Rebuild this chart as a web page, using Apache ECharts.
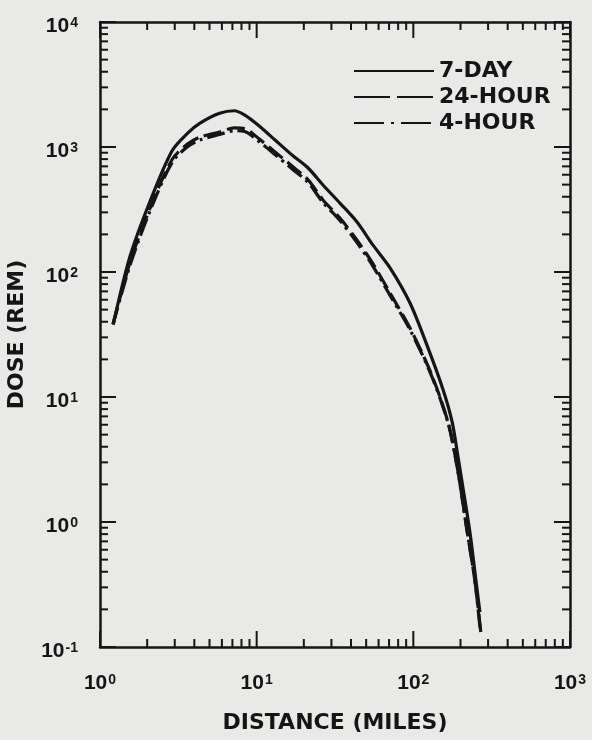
<!DOCTYPE html>
<html>
<head>
<meta charset="utf-8">
<script src="https://cdn.jsdelivr.net/npm/echarts@6/dist/echarts.min.js"></script>
<style>
  html, body { margin: 0; padding: 0; background: #e9e9e7; }
  #main { width: 592px; height: 740px; }
</style>
</head>
<body>
<div id="main"></div>
<script>
// dose vs distance
var sevenDayDist = [1.22, 1.55, 2.09, 2.88, 3.6, 4.35, 5.8, 7.2, 8.4, 10.2, 13.1, 16.8, 21.3, 26.5, 34.0, 43.7, 55.3, 71.0, 95.2, 122, 155, 177, 192, 206, 230, 251, 266];
var sevenDayDose = [39, 132, 370, 930, 1280, 1550, 1860, 1950, 1800, 1500, 1138, 863, 679, 497, 356, 251, 164, 108, 56.5, 26.1, 11.4, 6.3, 3.44, 1.98, 0.82, 0.34, 0.19];

var dayDist = [1.21, 1.55, 2.09, 2.88, 3.6, 4.35, 5.8, 7.2, 8.4, 10.2, 13.1, 16.8, 21.3, 26.5, 34.0, 43.7, 55.3, 71.0, 95.2, 124, 148, 169, 184.5, 198.6, 220, 247, 270];
var dayDose = [38, 118, 325, 790, 1050, 1200, 1320, 1420, 1400, 1180, 912, 705, 545, 377, 270, 180, 116, 67.9, 35.6, 17.7, 10.0, 5.86, 3.44, 2.01, 0.86, 0.34, 0.129];

var fourHourDist = [1.21, 1.55, 2.09, 2.88, 3.6, 4.35, 5.8, 7.2, 8.4, 10.2, 13.1, 16.8, 21.3, 26.5, 34.0, 43.7, 55.3, 71.0, 95.2, 124, 148, 169, 184.5, 198.6, 220, 247, 268];
var fourHourDose = [38, 112, 310, 750, 1000, 1140, 1260, 1350, 1330, 1120, 870, 670, 520, 360, 258, 172, 111, 65, 34.5, 17.3, 9.8, 5.8, 3.44, 2.01, 0.86, 0.34, 0.133];

var xMajor = [1, 10, 100, 1000];
var yMajor = [0.1, 1, 10, 100, 1000, 10000];
var seriesNames = ['7-DAY', '24-HOUR', '4-HOUR'];

function minorsOf(major) {
	var out = [];
	for (var i = 0; i < major.length - 1; i++) {
		for (var k = 2; k <= 9; k++) out.push(+(major[i] * k).toPrecision(3));
	}
	return out;
}
var xMinor = minorsOf(xMajor);
var yMinor = minorsOf(yMajor);

function pairs(xs, ys) {
	return xs.map(function (x, i) { return [x, ys[i]]; });
}

var ink = '#151515';
var font = 'DejaVu Sans';
var tickFont = 'Liberation Sans';

function powLabel(v) {
	var e = Math.round(Math.log(v) / Math.LN10);
	return '{b|10}{s|' + e + '}';
}
var labelRich = {
	b: { fontFamily: tickFont, fontWeight: 'bold', fontSize: 21, lineHeight: 21, color: ink, verticalAlign: 'bottom' },
	s: { fontFamily: tickFont, fontWeight: 'bold', fontSize: 14, lineHeight: 14, color: ink, verticalAlign: 'top', padding: [0, 0, 0, 1] }
};

// tick marks on all four sides of the frame, placed through the axes' own scales
function tickSeries(vals, onX, len) {
	return {
		type: 'custom',
		silent: true,
		clip: false,
		z: 5,
		data: vals.map(function (v) { return onX ? [v, 0.1] : [1, v]; }),
		renderItem: function (params, api) {
			var st = { stroke: ink, lineWidth: 2 };
			if (onX) {
				var v = api.value(0);
				var b = api.coord([v, 0.1]), t = api.coord([v, 10000]);
				return { type: 'group', children: [
					{ type: 'line', shape: { x1: b[0], y1: b[1], x2: b[0], y2: b[1] - len }, style: st },
					{ type: 'line', shape: { x1: t[0], y1: t[1], x2: t[0], y2: t[1] + len }, style: st }
				]};
			}
			var w = api.value(1);
			var l = api.coord([1, w]), r = api.coord([1000, w]);
			return { type: 'group', children: [
				{ type: 'line', shape: { x1: l[0], y1: l[1], x2: l[0] + len, y2: l[1] }, style: st },
				{ type: 'line', shape: { x1: r[0], y1: r[1], x2: r[0] - len, y2: r[1] }, style: st }
			]};
		}
	};
}

function curve(name, xs, ys, dash) {
	return {
		name: name,
		type: 'line',
		data: pairs(xs, ys),
		symbol: 'none',
		smooth: 0.3,
		z: 3,
		itemStyle: { color: ink },
		lineStyle: { color: ink, width: 3.2, type: dash }
	};
}

var myChart = echarts.init(document.getElementById('main'));
var option = {
	backgroundColor: '#e9e9e7',
	animation: false,
	grid: { left: 100, right: 22, top: 22, bottom: 93, outerBoundsMode: 'none' },
	legend: {
		data: [
			{ name: seriesNames[0], itemStyle: { opacity: 0 }, lineStyle: { type: 'solid' } },
			{ name: seriesNames[1], itemStyle: { opacity: 0 }, lineStyle: { type: [36, 7] } },
			{ name: seriesNames[2], itemStyle: { opacity: 0 }, lineStyle: { type: [30, 7, 3, 7] } }
		],
		orient: 'vertical',
		left: 348,
		top: 55,
		itemWidth: 80,
		itemHeight: 14,
		itemGap: 4,
		itemStyle: { opacity: 0 },
		textStyle: { fontFamily: font, fontWeight: 'bold', fontSize: 22, lineHeight: 22, color: ink }
	},
	xAxis: [
		{
			type: 'log', logBase: 10, min: 1, max: 1000,
			position: 'bottom',
			name: 'DISTANCE (MILES)',
			nameLocation: 'middle',
			nameGap: 65,
			nameTextStyle: { fontFamily: font, fontWeight: 'bold', fontSize: 22, color: ink },
			axisLine: { lineStyle: { color: ink, width: 2.5 } },
			axisTick: { show: false },
			splitLine: { show: false },
			axisLabel: { customValues: xMajor, formatter: powLabel, rich: labelRich, margin: 26 }
		},
		{
			type: 'log', logBase: 10, min: 1, max: 1000,
			position: 'top',
			axisLine: { lineStyle: { color: ink, width: 2.5 } },
			axisTick: { show: false },
			axisLabel: { show: false },
			splitLine: { show: false }
		}
	],
	yAxis: [
		{
			type: 'log', logBase: 10, min: 0.1, max: 10000,
			position: 'left',
			name: 'DOSE (REM)',
			nameLocation: 'middle',
			nameGap: 72,
			nameTextStyle: { fontFamily: font, fontWeight: 'bold', fontSize: 22, color: ink },
			axisLine: { lineStyle: { color: ink, width: 2.5 } },
			axisTick: { show: false },
			splitLine: { show: false },
			axisLabel: { customValues: yMajor, formatter: powLabel, rich: labelRich, margin: 22, padding: [9, 0, 0, 0] }
		},
		{
			type: 'log', logBase: 10, min: 0.1, max: 10000,
			position: 'right',
			axisLine: { lineStyle: { color: ink, width: 2.5 } },
			axisTick: { show: false },
			axisLabel: { show: false },
			splitLine: { show: false }
		}
	],
	series: [
		curve(seriesNames[0], sevenDayDist, sevenDayDose, 'solid'),
		curve(seriesNames[1], dayDist, dayDose, [18, 6]),
		curve(seriesNames[2], fourHourDist, fourHourDose, [18, 5, 3, 5]),
		tickSeries(xMajor, true, 16),
		tickSeries(xMinor, true, 8),
		tickSeries(yMajor, false, 16),
		tickSeries(yMinor, false, 8)
	]
};
myChart.setOption(option);
</script>
</body>
</html>
